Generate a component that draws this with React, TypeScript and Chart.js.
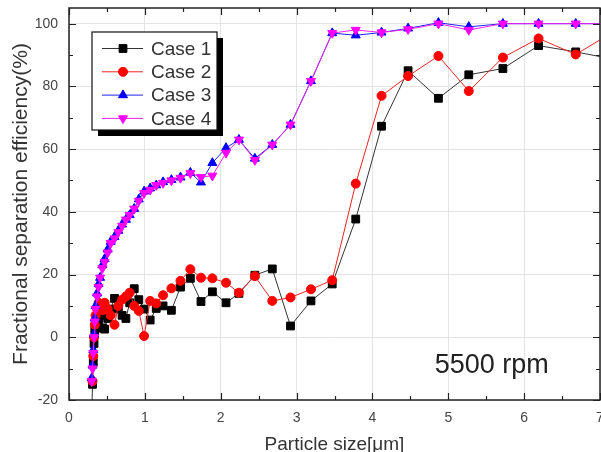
import React, { useEffect, useRef } from 'react';
import { Chart, registerables } from 'chart.js';
import { drawPoint } from 'chart.js/helpers';

Chart.register(...registerables);

// Particle size bins (µm) shared by all four cases
const sizes = [
  0.30, 0.31, 0.32, 0.33, 0.34, 0.35, 0.37, 0.39, 0.41, 0.44,
  0.47, 0.51, 0.55, 0.60, 0.65, 0.70, 0.75, 0.80, 0.86, 0.92,
  0.99, 1.07, 1.15, 1.24, 1.35, 1.47, 1.60, 1.74, 1.89, 2.07,
  2.24, 2.45, 2.68, 2.92, 3.19, 3.47, 3.78, 4.12, 4.47, 4.87,
  5.27, 5.72, 6.19, 6.68, 7.22,
];

// Fractional separation efficiency (%) per case
const case1 = [
  -24, -15, -8, -2, 2, 4, 3, 5, 7, 3,
  2.6, 6, 9, 12.4, 9, 7, 6, 11, 15.5, 12,
  9, 5.5, 9.2, 10, 8.6, 16, 18.8, 11.4, 14.5, 11,
  14, 19.8, 21.8, 3.6, 11.6, 17, 37.7, 67.3, 85, 76.2,
  83.7, 85.7, 93, 91, 88.5,
];
const case2 = [
  null, -14, -6, 0, 4, 7, 9, 11, 10, 8.6,
  11, 9, 7, 4, 10, 12, 13, 14.2, 10, 8.4,
  0.4, 11.6, 10.8, 13.4, 15.6, 18, 21.7, 19, 18.8, 17.4,
  14.2, 19.5, 11.6, 12.7, 15.3, 18.2, 49, 77, 83.3, 89.7,
  78.5, 89.2, 95.3, 90.2, 98,
];
const case3 = [
  -13, -9, -4, 1, 6, 10, 14, 17, 19, 23,
  25, 28, 30.5, 32, 34, 36, 37.5, 39, 41, 44,
  46.5, 47.5, 48.5, 49.5, 50.2, 51, 52.5, 49.4, 55.6, 60.4,
  63, 57, 61.4, 67.8, 81.7, 97, 96.3, 97.2, 98.5, 100.3,
  99, 100, 100, 100, 100,
];
const case4 = [
  -14, -10, -5, 0, 5, 9, 13, 16, 19, 22,
  24, 27, 30, 31.5, 33.5, 35.5, 37.5, 39, 41, 43.5,
  46, 47, 48.5, 49.2, 50, 50.8, 52.3, 51.1, 51.5, 58.8,
  63, 56.5, 61.4, 67.8, 81.7, 97, 98, 97.2, 98.2, 100,
  98, 100, 100, 100, 100,
];

const seriesLabels = ['Case 1', 'Case 2', 'Case 3', 'Case 4'];
const xTitle = 'Particle size[\u03bcm]';
const yTitle = 'Fractional separation efficiency(%)';
const speedLabel = '5500 rpm';

const FONT = "Arial, 'Liberation Sans', Helvetica, sans-serif";
const CANVAS_W = 625;
const CANVAS_H = 456;

const toPoints = (vals: (number | null)[]) => sizes.map((x, i) => ({ x, y: vals[i] }));

// Closed frame with inward-pointing major/minor ticks on all four sides
const framePlugin = {
  id: 'frameTicks',
  afterDatasetsDraw(chart: any) {
    const { ctx, chartArea: a, scales } = chart;
    const xs = scales.x;
    const ys = scales.y;
    ctx.save();
    ctx.strokeStyle = '#222';
    ctx.lineWidth = 1.5;
    ctx.strokeRect(a.left, a.top, a.right - a.left, a.bottom - a.top);
    ctx.lineWidth = 1.2;
    ctx.beginPath();
    for (let v = xs.min; v <= xs.max + 1e-9; v += 0.5) {
      const px = Math.round(xs.getPixelForValue(v)) + 0.5;
      const len = Math.abs(v - Math.round(v)) < 1e-9 ? 7 : 4;
      ctx.moveTo(px, a.bottom);
      ctx.lineTo(px, a.bottom - len);
      ctx.moveTo(px, a.top);
      ctx.lineTo(px, a.top + len);
    }
    for (let v = -20; v <= 100; v += 10) {
      const py = Math.round(ys.getPixelForValue(v)) + 0.5;
      const len = v % 20 === 0 ? 7 : 4;
      ctx.moveTo(a.left, py);
      ctx.lineTo(a.left + len, py);
      ctx.moveTo(a.right, py);
      ctx.lineTo(a.right - len, py);
    }
    ctx.stroke();
    ctx.restore();
  },
};

// Boxed legend with drop shadow, each row showing line + marker
const legendPlugin = {
  id: 'boxLegend',
  afterDraw(chart: any) {
    const { ctx, chartArea: a } = chart;
    const bx = a.left + 23;
    const by = a.top + 24;
    const bw = 125;
    const bh = 98;
    const sh = 6;
    ctx.save();
    ctx.fillStyle = '#000';
    ctx.fillRect(bx + sh, by + sh, bw, bh);
    ctx.fillStyle = '#fff';
    ctx.fillRect(bx, by, bw, bh);
    ctx.strokeStyle = '#111';
    ctx.lineWidth = 1.2;
    ctx.strokeRect(bx, by, bw, bh);
    chart.data.datasets.forEach((ds: any, i: number) => {
      const cy = by + 16.5 + i * 23.3;
      ctx.strokeStyle = ds.borderColor;
      ctx.lineWidth = 1;
      ctx.beginPath();
      ctx.moveTo(bx + 10, cy);
      ctx.lineTo(bx + 51, cy);
      ctx.stroke();
      ctx.fillStyle = ds.pointBackgroundColor;
      ctx.strokeStyle = ds.pointBorderColor;
      ctx.lineWidth = 1;
      drawPoint(
        ctx,
        { pointStyle: ds.pointStyle, rotation: ds.pointRotation || 0, radius: ds.pointRadius, borderWidth: 1 },
        bx + 31,
        cy,
      );
      ctx.fillStyle = '#333';
      ctx.font = `19px ${FONT}`;
      ctx.textBaseline = 'middle';
      ctx.textAlign = 'left';
      ctx.fillText(ds.label, bx + 59, cy + 1);
    });
    ctx.restore();
  },
};

// Operating speed note placed in data coordinates
const speedPlugin = {
  id: 'speedNote',
  afterDatasetsDraw(chart: any) {
    const { ctx, scales } = chart;
    ctx.save();
    ctx.fillStyle = '#222';
    ctx.font = `27px ${FONT}`;
    ctx.textBaseline = 'alphabetic';
    ctx.textAlign = 'left';
    ctx.fillText(speedLabel, scales.x.getPixelForValue(4.82), scales.y.getPixelForValue(-11.4));
    ctx.restore();
  },
};

export default function App() {
  const canvasRef = useRef<HTMLCanvasElement>(null);

  useEffect(() => {
    const canvas = canvasRef.current;
    if (!canvas) return;
    const common = { borderWidth: 1, pointBorderWidth: 1, fill: false, tension: 0 };
    const chart = new Chart(canvas, {
      type: 'line',
      data: {
        datasets: [
          {
            ...common,
            label: seriesLabels[0],
            data: toPoints(case1),
            borderColor: '#333',
            pointStyle: 'rect',
            pointRadius: 5.5,
            pointBackgroundColor: '#000',
            pointBorderColor: '#000',
            order: 4,
          },
          {
            ...common,
            label: seriesLabels[1],
            data: toPoints(case2),
            borderColor: '#ee2222',
            pointStyle: 'circle',
            pointRadius: 4.5,
            pointBackgroundColor: '#ff0000',
            pointBorderColor: '#ff0000',
            order: 3,
          },
          {
            ...common,
            label: seriesLabels[2],
            data: toPoints(case3),
            borderColor: '#2222ee',
            pointStyle: 'triangle',
            pointRadius: 5.2,
            pointBackgroundColor: '#0000ff',
            pointBorderColor: '#0000ff',
            order: 2,
          },
          {
            ...common,
            label: seriesLabels[3],
            data: toPoints(case4),
            borderColor: '#ee22ee',
            pointStyle: 'triangle',
            pointRotation: 180,
            pointRadius: 5.2,
            pointBackgroundColor: '#ff00ff',
            pointBorderColor: '#ff00ff',
            order: 1,
          },
        ] as any,
      },
      options: {
        animation: false,
        responsive: false,
        devicePixelRatio: 1,
        layout: { padding: { top: 8, left: 0, right: CANVAS_W - 600, bottom: 0 } },
        plugins: {
          legend: { display: false },
          tooltip: { enabled: false },
        },
        scales: {
          x: {
            type: 'linear',
            min: 0,
            max: 7,
            ticks: { stepSize: 1, padding: 10, color: '#444', font: { size: 14, family: FONT } },
            grid: { color: '#e4e4e4', drawTicks: false, lineWidth: 1 },
            border: { display: false },
            title: { display: true, text: xTitle, color: '#333', font: { size: 19, family: FONT }, padding: 0 },
            afterFit(scale: any) {
              scale.height = CANVAS_H - 400;
              scale.paddingLeft = 0;
              scale.paddingRight = 0;
            },
          },
          y: {
            type: 'linear',
            min: -20,
            max: 105,
            ticks: { stepSize: 20, includeBounds: false, padding: 11, color: '#444', font: { size: 14, family: FONT } },
            grid: { color: '#e4e4e4', drawTicks: false, lineWidth: 1 },
            border: { display: false },
            title: {
              display: true,
              text: yTitle,
              color: '#333',
              font: { size: 21, family: FONT },
              padding: { top: 9, bottom: 0 },
            },
            afterFit(scale: any) {
              scale.width = 69;
              scale.paddingTop = 0;
              scale.paddingBottom = 0;
            },
          },
        },
      } as any,
      plugins: [framePlugin, speedPlugin, legendPlugin],
    });
    return () => chart.destroy();
  }, []);

  return (
    <div
      style={{
        position: 'fixed',
        left: 0,
        top: 0,
        width: 601,
        height: 452,
        overflow: 'hidden',
        background: '#fff',
      }}
    >
      <canvas ref={canvasRef} width={CANVAS_W} height={CANVAS_H} style={{ display: 'block' }} />
    </div>
  );
}
